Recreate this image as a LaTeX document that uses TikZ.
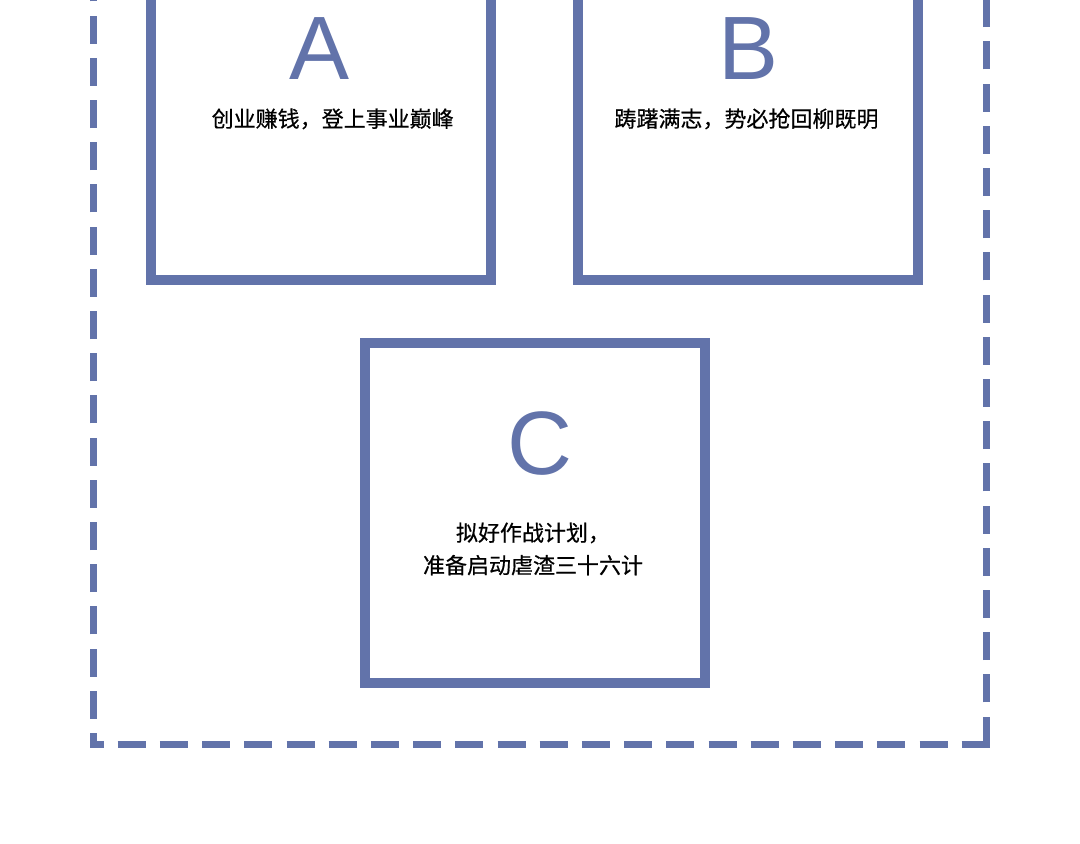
\documentclass[tikz,border=0pt]{standalone}
\usepackage{fontspec}
\setmainfont{Liberation Sans}
\newfontfamily\cjk[FakeBold=0.5]{Noto Sans CJK SC}
\definecolor{boxblue}{RGB}{98,115,170}
\begin{document}
\begin{tikzpicture}[x=1pt, y=-1pt,
  frameline/.style = {draw=boxblue, line width=7pt, dash pattern=on 28pt off 14.2pt}]
\useasboundingbox[fill=white] (0,0) rectangle (1080,844);
\coordinate (bl) at (93.5, 744.5);
\coordinate (br) at (986.5, 744.5);
\coordinate (tr) at (986.5, -126);
\coordinate (tl) at (93.5, -126);
\draw[frameline] (br) -- (tr);
\draw[frameline, dash phase=14.5pt] ([xshift=-3.5pt]bl) -- ([xshift=3.5pt]br);
\draw[frameline, dash phase=16.5pt] (bl) -- (tl);
\draw[frameline] (tl) -- (tr);
\begin{scope}[every node/.style = {draw=boxblue, line width=10pt, inner sep=0pt, minimum width=340pt, minimum height=340pt}]
\node (a) at (320.75, 110) {};
\node (b) at (748, 110) {};
\node (c) at (534.75, 512.75) {};
\end{scope}
\begin{scope}[every node/.style = {anchor=base, text=boxblue, font=\fontsize{90}{90}\selectfont}]
\node (la) at (320, 79) {A};
\node (lb) at (748.5, 79) {B};
\node (lc) at (540, 474) {C};
\end{scope}
\begin{scope}[every node/.style = {anchor=base, align=center, font=\cjk\fontsize{22}{32.5}\selectfont}]
\node (ta) at (332.7, 127) {创业赚钱，登上事业巅峰};
\node (tb) at (746.5, 127) {踌躇满志，势必抢回柳既明};
\node (tc) at (533, 573.5) {拟好作战计划，\\准备启动虐渣三十六计};
\end{scope}
\end{tikzpicture}
\end{document}
